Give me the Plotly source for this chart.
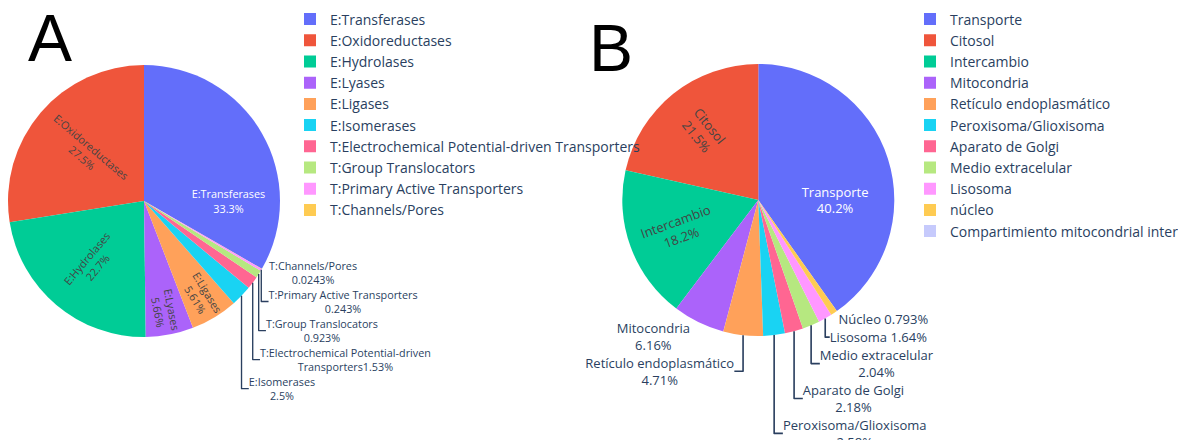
import plotly.graph_objects as go

W, H = 1178, 440

# Panel A: enzyme / transporter classes (percent of proteins)
enzyme_labels = [
    "E:Transferases", "E:Oxidoreductases", "E:Hydrolases", "E:Lyases",
    "E:Ligases", "E:Isomerases", "T:Electrochemical Potential-driven Transporters",
    "T:Group Translocators", "T:Primary Active Transporters", "T:Channels/Pores",
]
enzyme_pct = [33.3, 27.5, 22.7, 5.66, 5.61, 2.5, 1.53, 0.923, 0.243, 0.0243]
enzyme_text = [
    "E:Transferases<br>", "E:Oxidoreductases<br>", "E:Hydrolases<br>", "E:Lyases<br>",
    "E:Ligases<br>", "E:Isomerases<br>", "T:Electrochemical Potential-driven<br>Transporters",
    "T:Group Translocators<br>", "T:Primary Active Transporters<br>", "T:Channels/Pores<br>",
]

# Panel B: subcellular location (percent of proteins)
location_labels = [
    "Transporte", "Citosol", "Intercambio", "Mitocondria", "Retículo endoplasmático",
    "Peroxisoma/Glioxisoma", "Aparato de Golgi", "Medio extracelular", "Lisosoma",
    "núcleo", "Compartimiento mitocondrial interno",
]
location_pct = [40.2, 21.5, 18.2, 6.16, 4.71, 2.58, 2.18, 2.04, 1.64, 0.793, 0.0]
location_text = [
    "Transporte<br>", "Citosol<br>", "Intercambio<br>", "Mitocondria<br>",
    "Retículo endoplasmático<br>", "Peroxisoma/Glioxisoma<br>", "Aparato de Golgi<br>",
    "Medio extracelular<br>", "Lisosoma ", "Núcleo ", "",
]

# Plotly qualitative palette, plus a lightened first colour for an 11th slice
palette = ["#636efa", "#EF553B", "#00cc96", "#ab63fa", "#FFA15A",
           "#19d3f3", "#FF6692", "#B6E880", "#FF97FF", "#FECB52", "#c6cafc"]


def px_domain(cx, cy, r):
    return dict(x=[(cx - r) / W, (cx + r) / W], y=[1 - (cy + r) / H, 1 - (cy - r) / H])


fig = go.Figure()
fig.add_trace(go.Pie(
    labels=enzyme_labels, values=enzyme_pct, text=enzyme_text,
    texttemplate="%{text}%{percent}", textfont=dict(size=10.8),
    insidetextorientation="radial",
    marker=dict(colors=palette[:len(enzyme_labels)]),
    domain=px_domain(144, 201, 136), automargin=False, legend="legend",
))
fig.add_trace(go.Pie(
    labels=location_labels, values=location_pct, text=location_text,
    texttemplate=["%{text}%{percent}"] * 10 + [""], textfont=dict(size=13),
    insidetextorientation="radial",
    marker=dict(colors=palette[:len(location_labels)]),
    domain=px_domain(758.3, 200, 136), automargin=False, legend="legend2",
))

fig.add_annotation(text="A", x=49.5 / W, y=1 - 38.3 / H, xref="paper", yref="paper",
                   xanchor="center", yanchor="middle", showarrow=False,
                   font=dict(family="Liberation Sans", size=66, color="black"))
fig.add_annotation(text="B", x=610.5 / W, y=1 - 48.3 / H, xref="paper", yref="paper",
                   xanchor="center", yanchor="middle", showarrow=False,
                   font=dict(family="Liberation Sans", size=66, color="black"))

fig.update_layout(
    width=W, height=H,
    margin=dict(l=0, r=0, t=0, b=0, autoexpand=False),
    paper_bgcolor="white",
    legend=dict(x=290 / W, y=1 - 3.5 / H, xanchor="left", yanchor="top",
                font=dict(size=14), bgcolor="rgba(0,0,0,0)"),
    legend2=dict(x=910 / W, y=1 - 3.5 / H, xanchor="left", yanchor="top",
                 font=dict(size=14), bgcolor="rgba(0,0,0,0)"),
)

fig.write_html("out.html")
